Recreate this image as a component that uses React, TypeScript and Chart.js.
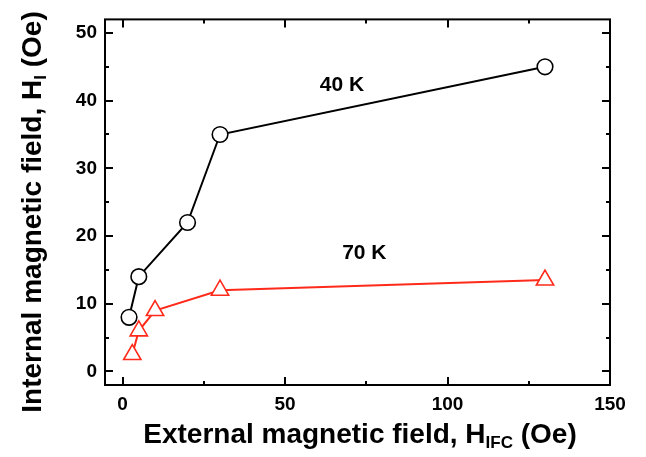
import React, { useEffect, useRef } from "react";
import { Chart, registerables } from "chart.js";

Chart.register(...registerables);

// ---- data ----
const field40K = [2, 5, 20, 30, 130];
const internal40K = [8, 14, 22, 35, 45];
const field70K = [3, 5, 10, 30, 130];
const internal70K = [2.5, 6, 9, 12, 13.5];
const seriesLabels = ["40 K", "70 K"];
const xMajorTicks = [0, 50, 100, 150];
const xMinorTicks = [25, 75, 125];
const yMajorTicks = [0, 10, 20, 30, 40, 50];
const yMinorTicks = [5, 15, 25, 35, 45];

const RED = "#ff2a1a";
const FONT = '"Liberation Sans", Arial, sans-serif';

type Part = { t: string; size: number; dy: number };

function drawRich(ctx: CanvasRenderingContext2D, parts: Part[], cx: number, baseline: number) {
  let total = 0;
  for (const p of parts) {
    ctx.font = `bold ${p.size}px ${FONT}`;
    total += ctx.measureText(p.t).width;
  }
  let x = cx - total / 2;
  ctx.textAlign = "left";
  ctx.textBaseline = "alphabetic";
  for (const p of parts) {
    ctx.font = `bold ${p.size}px ${FONT}`;
    ctx.fillText(p.t, x, baseline + p.dy);
    x += ctx.measureText(p.t).width;
  }
}

const framePlugin = {
  id: "originFrame",
  afterDraw(chart: any) {
    const { ctx, chartArea: a, scales } = chart;
    const xs = scales.x;
    const ys = scales.y;
    ctx.save();
    ctx.strokeStyle = "#000";
    ctx.lineWidth = 2;
    ctx.strokeRect(a.left, a.top, a.right - a.left, a.bottom - a.top);

    const major = 8;
    const minor = 4;
    ctx.beginPath();
    const xTick = (v: number, len: number) => {
      const px = Math.round(xs.getPixelForValue(v));
      ctx.moveTo(px, a.bottom);
      ctx.lineTo(px, a.bottom - len);
      ctx.moveTo(px, a.top);
      ctx.lineTo(px, a.top + len);
    };
    const yTick = (v: number, len: number) => {
      const py = Math.round(ys.getPixelForValue(v));
      ctx.moveTo(a.left, py);
      ctx.lineTo(a.left + len, py);
      ctx.moveTo(a.right, py);
      ctx.lineTo(a.right - len, py);
    };
    xMajorTicks.forEach((v) => xTick(v, major));
    xMinorTicks.forEach((v) => xTick(v, minor));
    yMajorTicks.forEach((v) => yTick(v, major));
    yMinorTicks.forEach((v) => yTick(v, minor));
    ctx.stroke();

    // series annotations
    ctx.fillStyle = "#000";
    ctx.font = `bold 21px ${FONT}`;
    ctx.textAlign = "center";
    ctx.textBaseline = "middle";
    ctx.fillText(seriesLabels[0], xs.getPixelForValue(67.5), ys.getPixelForValue(42.3));
    ctx.fillText(seriesLabels[1], xs.getPixelForValue(74.4), ys.getPixelForValue(17.5));

    // x title
    drawRich(
      ctx,
      [
        { t: "External magnetic field, H", size: 28, dy: 0 },
        { t: "IFC", size: 17, dy: 5 },
        { t: " (Oe)", size: 28, dy: 0 },
      ],
      360,
      443
    );

    // y title
    ctx.translate(41, 212);
    ctx.rotate(-Math.PI / 2);
    drawRich(
      ctx,
      [
        { t: "Internal magnetic field, H", size: 28, dy: 0 },
        { t: "I", size: 17, dy: 5 },
        { t: " (Oe)", size: 28, dy: 0 },
      ],
      0,
      0
    );
    ctx.restore();
  },
};

export default function App() {
  const ref = useRef<HTMLCanvasElement | null>(null);

  useEffect(() => {
    if (!ref.current) return;
    const tickFont = { family: FONT, size: 19, weight: "bold" as const };
    const chart = new Chart(ref.current, {
      type: "scatter",
      data: {
        datasets: [
          {
            label: seriesLabels[0],
            data: field40K.map((x, i) => ({ x, y: internal40K[i] })),
            showLine: true,
            borderColor: "#000",
            borderWidth: 2,
            pointStyle: "circle",
            pointRadius: 7.8,
            pointBorderWidth: 1.6,
            pointBackgroundColor: "#fff",
            pointBorderColor: "#000",
          },
          {
            label: seriesLabels[1],
            data: field70K.map((x, i) => ({ x, y: internal70K[i] })),
            showLine: true,
            borderColor: RED,
            borderWidth: 2,
            pointStyle: "triangle",
            pointRadius: 10,
            pointBorderWidth: 1.6,
            pointBackgroundColor: "#fff",
            pointBorderColor: RED,
          },
        ],
      },
      options: {
        responsive: false,
        animation: false,
        layout: { padding: { left: 0, right: 36, top: 12, bottom: 0 } },
        plugins: { legend: { display: false }, tooltip: { enabled: false } },
        scales: {
          x: {
            type: "linear",
            min: -5.4,
            max: 150,
            grid: { display: false, drawTicks: false },
            border: { display: false },
            afterBuildTicks: (s: any) => {
              s.ticks = xMajorTicks.map((v) => ({ value: v }));
            },
            afterFit: (s: any) => {
              s.height = 72;
            },
            ticks: { font: tickFont, color: "#000", padding: 8, maxRotation: 0, autoSkip: false },
          },
          y: {
            type: "linear",
            min: -2,
            max: 52,
            grid: { display: false, drawTicks: false },
            border: { display: false },
            afterBuildTicks: (s: any) => {
              s.ticks = yMajorTicks.map((v) => ({ value: v }));
            },
            afterFit: (s: any) => {
              s.width = 105;
            },
            ticks: { font: tickFont, color: "#000", padding: 8, autoSkip: false },
          },
        },
      },
      plugins: [framePlugin],
    });
    return () => chart.destroy();
  }, []);

  return (
    <div style={{ position: "absolute", left: 0, top: 0, width: 646, height: 457, background: "#fff" }}>
      <canvas ref={ref} width={646} height={457} />
    </div>
  );
}
